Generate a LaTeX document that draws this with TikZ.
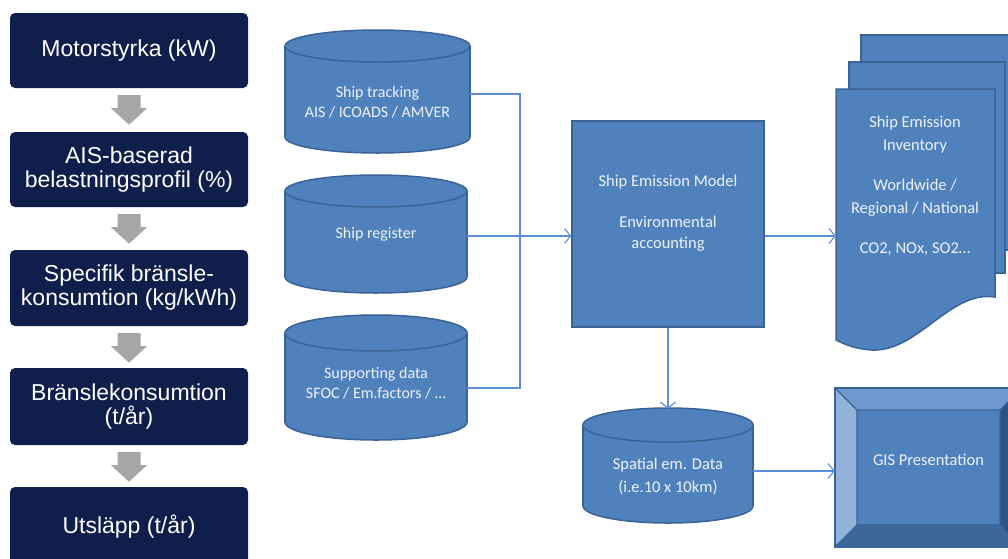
\documentclass[tikz,border=0pt]{standalone}
\usepackage{fontspec}
\setmainfont{Carlito}
\newfontfamily\arialf{Liberation Sans}
\usetikzlibrary{arrows.meta}
\definecolor{navy}{HTML}{0F1E4B}
\definecolor{garrow}{HTML}{A6A6A6}
\definecolor{bfill}{HTML}{4F81BD}
\definecolor{bline}{HTML}{3A6396}
\definecolor{cline}{HTML}{5B8ED6}
\definecolor{btxt}{HTML}{EEF3FA}
\definecolor{bevtop}{HTML}{6E98CE}
\definecolor{bevleft}{HTML}{93B2D9}
\definecolor{bevbot}{HTML}{3D6699}
\definecolor{bevright}{HTML}{2E5282}
\newcommand\dbcyl[5]{%
  \filldraw[bluefill] ({(#1+#2)/2},#4) ellipse [x radius={(#2-#1)/2}, y radius=#5];
  \fill[bfill] (#1,#3) rectangle (#2,#4);
  \draw[bline, line width=1.5pt] (#1,#3) -- (#1,#4) (#2,#3) -- (#2,#4);
  \filldraw[bluefill] ({(#1+#2)/2},#3) ellipse [x radius={(#2-#1)/2}, y radius=#5];}
\newcommand\blockarrow[1]{%
  \path (#1.south) ++(0,7) coordinate (ba);
  \fill[garrow] (ba) ++(-11.5,0) -- ++(23,0) -- ++(0,13) -- ++(6.5,0) -- ++(-18,16.5) -- ++(-18,-16.5) -- ++(6.5,0) -- cycle;}
\begin{document}
\begin{tikzpicture}[x=1pt,y=-1pt,
  navybox/.style={fill=navy, rounded corners=5pt, draw=none, inner sep=0pt,
    minimum width=238pt, text=white, font=\arialf\fontsize{23}{24}\selectfont, align=center},
  bluefill/.style={fill=bfill, draw=bline, line width=1.5pt},
  btext/.style={text=btxt, font=\fontsize{16.5}{23.5}\selectfont, align=center, inner sep=0pt},
  ctext/.style={text=btxt, font=\fontsize{16}{20}\selectfont, align=center, inner sep=0pt},
  anchorbox/.style={inner sep=0pt, draw=none},
  conn/.style={draw=cline, line width=1.1pt},
  tip/.style={-{Straight Barb[length=6pt,width=15pt,line width=1.1pt]}}]
\clip (0,0) rectangle (1008,558);
% left column
\node[navybox, minimum height=75pt] (b1) at (129,50.5) {Motorstyrka (kW)};
\node[navybox, minimum height=75pt] (b2) at (129,169.5) {AIS-baserad\\belastningsprofil (\%)};
\node[navybox, minimum height=76pt] (b3) at (129,288) {Specifik bränsle-\\konsumtion (kg/kWh)};
\node[navybox, minimum height=77pt] (b4) at (129,406.5) {Bränslekonsumtion\\(t/år)};
\node[navybox, minimum height=80pt] (b5) at (129,527) {Utsläpp (t/år)};
\blockarrow{b1}
\blockarrow{b2}
\blockarrow{b3}
\blockarrow{b4}
% cylinders
\dbcyl{285}{470}{46}{137}{16}
\node[anchorbox, minimum width=185pt, minimum height=120pt] (track) at (377.5,94) {};
\node[ctext] (tracktxt) at (377.5,102.5) {Ship tracking\\AIS / ICOADS / AMVER};
\dbcyl{285}{467}{191}{277}{16}
\node[anchorbox, minimum width=182pt, minimum height=118pt] (reg) at (376,236) {};
\node[ctext] (regtxt) at (376,234) {Ship register};
\dbcyl{285}{467}{333}{422}{18}
\node[anchorbox, minimum width=182pt, minimum height=110pt] (sup) at (376,388) {};
\node[ctext] (suptxt) at (376,383) {Supporting data\\SFOC / Em.factors / \dots};
\dbcyl{583}{753}{425}{506}{17}
\node[anchorbox, minimum width=170pt, minimum height=114pt] (spat) at (668,466) {};
\node[ctext, font=\fontsize{16.5}{23}\selectfont] (spattxt) at (668,476.5) {Spatial em. Data\\(i.e.10 x 10km)};
% model
\node[bluefill, minimum width=192pt, minimum height=206pt, inner sep=0pt] (model) at (668,224) {};
\node[btext, font=\fontsize{16.5}{21}\selectfont] (modeltxt) at (668,213.5) {Ship Emission Model\\[20pt]Environmental\\accounting};
% inventory (multi document)
\filldraw[bluefill] (861,35) rectangle (1030,250);
\filldraw[bluefill] (849,62) rectangle (1005,273);
\filldraw[bluefill] (836,89) -- (995,89) -- (995,297)
  .. controls (950,290) and (918,352) .. (872,350)
  .. controls (856,349) and (846,345) .. (836,340) -- cycle;
\node[anchorbox, minimum width=159pt, minimum height=250pt] (inv) at (915.5,214) {};
\node[btext] (invtxt) at (915,185.5) {Ship Emission\\Inventory\\[16pt]Worldwide /\\Regional / National\\[16pt]CO2, NOx, SO2\dots};
% GIS bevel
\fill[bfill] (835,388) rectangle (1022,547);
\fill[bevtop] (835,388) -- (1022,388) -- (1000,410) -- (857,410) -- cycle;
\fill[bevleft] (835,388) -- (857,410) -- (857,525) -- (835,547) -- cycle;
\fill[bevbot] (835,547) -- (857,525) -- (1000,525) -- (1022,547) -- cycle;
\fill[bevright] (1022,388) -- (1000,410) -- (1000,525) -- (1022,547) -- cycle;
\draw[bline, line width=1.2pt] (857,410) rectangle (1000,525)
  (835,388) -- (857,410) (1022,388) -- (1000,410) (835,547) -- (857,525) (1022,547) -- (1000,525);
\draw[bline, line width=1.5pt] (835,388) rectangle (1022,547);
\node[anchorbox, minimum width=187pt, minimum height=159pt] (gis) at (928.5,467.5) {};
\node[btext] (gistxt) at (928.5,460) {GIS Presentation};
% connectors
\coordinate (jn) at (520,236);
\draw[conn] (track.east) -| (jn) |- (sup.east);
\draw[conn,tip] (reg.east) -- (reg.east -| model.west);
\draw[conn,tip] (model.east |- reg.east) -- (reg.east -| inv.west);
\draw[conn,tip] (model.south) -- (model.south |- spat.north);
\coordinate (sg) at ([yshift=-5pt]spat.east);
\draw[conn,tip] (sg) -- (sg -| gis.west);
\end{tikzpicture}
\end{document}
